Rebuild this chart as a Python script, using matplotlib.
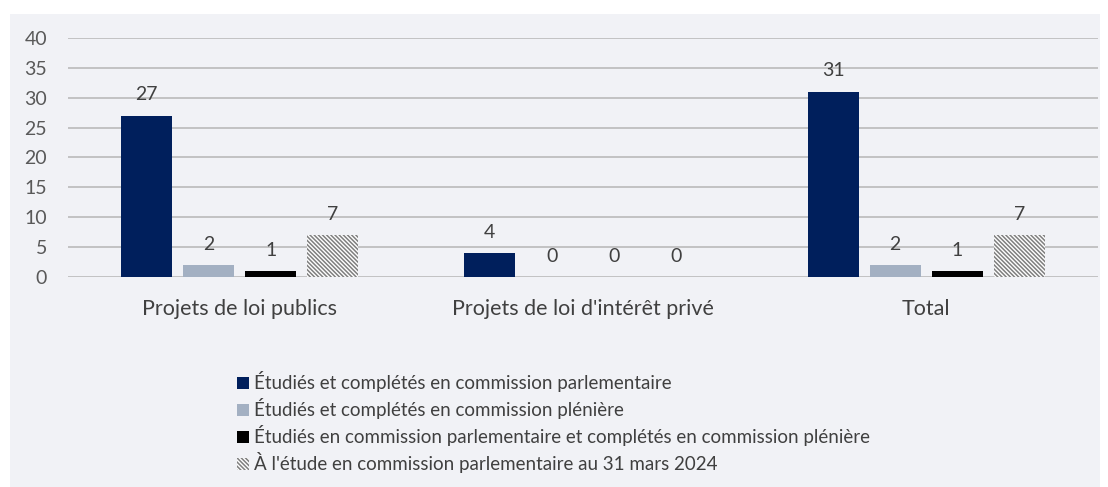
############################# Title #############################

''' Projets de loi : bilan au 31 mars 2024 '''

############################ Settings ###########################

import numpy as np
import matplotlib
matplotlib.use("Agg")
import matplotlib.pyplot as plt
from matplotlib.patches import Rectangle

plt.rcParams['font.family'] = ['Lato', 'DejaVu Sans']
plt.rcParams['hatch.linewidth'] = 1.1

########################## Data #########################

categories = ["Projets de loi publics", "Projets de loi d'intérêt privé", "Total"]
serie_labels = ["Étudiés et complétés en commission parlementaire",
                "Étudiés et complétés en commission plénière",
                "Étudiés en commission parlementaire et complétés en commission plénière",
                "À l'étude en commission parlementaire au 31 mars 2024"]
v_parlementaire = [27, 4, 31]
v_pleniere = [2, 0, 2]
v_mixte = [1, 0, 1]
v_en_etude = [7, 0, 7]
y_ticks = [0, 5, 10, 15, 20, 25, 30, 35, 40]

''' Styles '''
colors = ["#001f5c", "#a3b0c2", "#000000", "#ffffff"]
hatches = [None, None, None, "\\" * 8]
bg = "#f1f2f6"

########################## Plot #########################

fig = plt.figure(figsize=(11.08, 4.87), dpi=100)
fig.patch.set_facecolor("white")
fig.patches.append(Rectangle((10/1108, 0), 1090/1108, 1 - 14/487,
                             transform=fig.transFigure, facecolor=bg,
                             edgecolor="none", zorder=-5))

ax = fig.add_axes([68/1108, 1 - 277/487, 1030/1108, 239/487])
ax.set_facecolor("none")

x = np.arange(len(categories))
width = 0.149
pitch = 0.181
series = [v_parlementaire, v_pleniere, v_mixte, v_en_etude]

for i, vals in enumerate(series):
    pos = x + (i - 1.5) * pitch
    ax.bar(pos, vals, width, color=colors[i], label=serie_labels[i],
           hatch=hatches[i], edgecolor="#7f7f7f" if hatches[i] else colors[i],
           linewidth=0, zorder=3)
    for p, v in zip(pos, vals):
        ax.annotate(str(v), (p, v), xytext=(0, 15), textcoords="offset points",
                    ha="center", va="center", fontsize=14, color="#404040")

ax.set_xlim(-0.5, 2.5)
ax.set_ylim(0, 40)
ax.set_yticks(y_ticks)
ax.set_xticks(x)
ax.set_xticklabels(categories)
ax.yaxis.grid(True, color="#bfbfbf", linewidth=1.3, zorder=0)
ax.set_axisbelow(True)
for s in ax.spines.values():
    s.set_visible(False)
ax.tick_params(axis="y", length=0, pad=15, labelsize=14, labelcolor="#595959")
ax.tick_params(axis="x", length=0, pad=16, labelsize=15.5, labelcolor="#404040")

leg = fig.legend(loc="upper left", bbox_to_anchor=(228/1108, 1 - 362/487),
                 frameon=False, fontsize=13.5, handlelength=0.6, handleheight=0.65,
                 handletextpad=0.3, labelspacing=0.32, borderpad=0)
for t in leg.get_texts():
    t.set_color("#404040")

plt.savefig("out.png", dpi=100, facecolor=fig.get_facecolor())
